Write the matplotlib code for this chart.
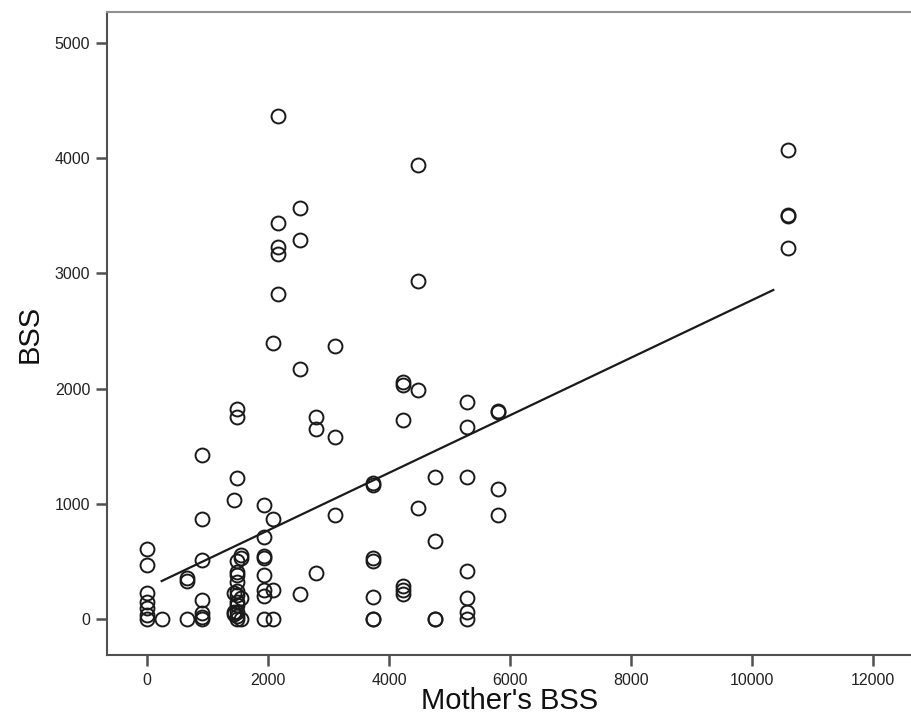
import matplotlib
matplotlib.use("Agg")
import matplotlib.pyplot as plt

plt.rcParams['font.family'] = ['Liberation Sans', 'DejaVu Sans']

# Data (Mother's BSS vs BSS)
col_x = [0, 240, 660, 905, 1430, 1490, 1550, 1940, 2080, 2160,
         2530, 2790, 3100, 3730, 4230, 4480, 4760, 5290, 5810, 10600]
col_y = [
    [605, 469, 223, 150, 93, 35, 0],
    [0],
    [360, 330, 0],
    [1420, 870, 512, 165, 49, 20, 0],
    [1030, 230, 60, 40],
    [1820, 1750, 1220, 500, 410, 380, 320, 240, 210, 150, 120, 60, 30, 0],
    [560, 530, 180, 0],
    [990, 710, 550, 530, 380, 250, 200, 0],
    [2400, 870, 250, 0],
    [4370, 3440, 3230, 3170, 2820],
    [3570, 3290, 2170, 215],
    [1750, 1650, 400],
    [2370, 1580, 900],
    [1180, 1160, 530, 500, 195, 0, 0],
    [2060, 2030, 1730, 290, 250, 220],
    [3940, 2930, 1990, 960],
    [1235, 680, 0, 0],
    [1880, 1670, 1235, 420, 180, 60, 0],
    [1810, 1795, 1130, 900],
    [4070, 3510, 3500, 3220],
]
fit_x = [243, 10352]
fit_y = [330, 2856]

x_ticks = [0, 2000, 4000, 6000, 8000, 10000, 12000]
y_ticks = [0, 1000, 2000, 3000, 4000, 5000]

xs, ys = [], []
for cx, cy in zip(col_x, col_y):
    for v in cy:
        xs.append(cx)
        ys.append(v)

fig = plt.figure(figsize=(9.12, 7.2), dpi=100)
ax = fig.add_axes([107 / 912, 65 / 720, 1 - 107 / 912, 643 / 720])

ax.plot(xs, ys, linestyle='none', marker='o', markersize=10,
        markerfacecolor='none', markeredgecolor='#1a1a1a', markeredgewidth=1.4)
ax.plot(fit_x, fit_y, color='#1a1a1a', linewidth=1.6)

ax.set_xlim(-661, 12645)
ax.set_ylim(-312, 5269)
ax.set_xticks(x_ticks)
ax.set_yticks(y_ticks)
ax.set_xticklabels([str(t) for t in x_ticks])
ax.set_yticklabels([str(t) for t in y_ticks])

ax.spines['right'].set_visible(False)
ax.spines['top'].set_color('#909090')
ax.spines['left'].set_color('#505050')
ax.spines['bottom'].set_color('#505050')
for s in ['top', 'left', 'bottom']:
    ax.spines[s].set_linewidth(1.5)

ax.tick_params(axis='both', direction='out', length=8, width=1.8,
               color='#505050', labelsize=11.5, labelcolor='#222222')
ax.tick_params(axis='x', pad=5)
ax.tick_params(axis='y', pad=4)

ax.set_xlabel("Mother's BSS", fontsize=21, color='#111111', labelpad=-1)
ax.set_ylabel("BSS", fontsize=21, color='#111111', labelpad=8)

fig.savefig('out.png', dpi=100)
